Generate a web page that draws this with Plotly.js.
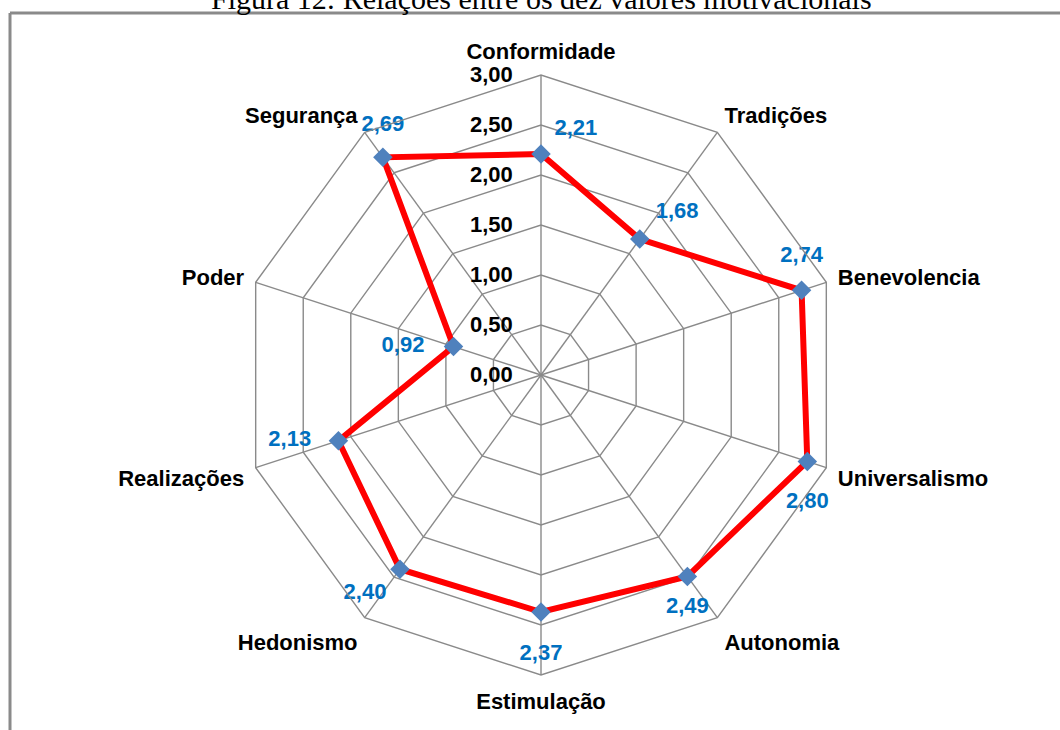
<!DOCTYPE html>
<html>
<head>
<meta charset="utf-8">
<script src="https://cdn.plot.ly/plotly-3.0.1.min.js"></script>
<style>html,body{margin:0;padding:0;background:#fff;}#chart{width:1060px;height:730px;}</style>
</head>
<body>
<div id="chart"></div>
<script>
const categories = ["Conformidade","Tradições","Benevolencia","Universalismo","Autonomia","Estimulação","Hedonismo","Realizações","Poder","Segurança"];
const values = [2.21, 1.68, 2.74, 2.80, 2.49, 2.37, 2.40, 2.13, 0.92, 2.69];
const radialTicks = [0, 0.5, 1, 1.5, 2, 2.5, 3];
const titleText = "Figura 12: Relações entre os dez valores motivacionais";

// label placement styling (per point)
const labelPositions = ["top right","top right","top center","bottom center","bottom center","bottom center","bottom left","middle left","middle left","top center"];
const labelOffsets = [20, 24, 35, 46, 30, 48, 20, 42, 45, 32];
const fmt = v => v.toFixed(2).replace('.', ',');

const closedTheta = categories.concat([categories[0]]);
const closedR = values.concat([values[0]]);

const grid = '#8a8a8a';
const font = '"Liberation Sans", Arial, sans-serif';

const traces = [
  {type:'scatterpolar', r: closedR, theta: closedTheta, mode:'lines',
   line:{color:'#ff0000', width:6}, hoverinfo:'skip', showlegend:false},
  {type:'scatterpolar', r: values, theta: categories, mode:'markers',
   marker:{symbol:'diamond', size:15, color:'#4f81bd'}, showlegend:false},
  {type:'scatterpolar', r: values, theta: categories, mode:'markers+text',
   marker:{symbol:'circle', size:labelOffsets, color:'rgba(0,0,0,0)', opacity:0},
   text: values.map(fmt), textposition: labelPositions,
   textfont:{family:font, size:22, color:'#0070c0', weight:'bold'},
   showlegend:false}
];

const layout = {
  width:1060, height:730,
  margin:{l:0,r:0,t:0,b:0},
  paper_bgcolor:'#fff', plot_bgcolor:'#fff',
  separators:',.',
  showlegend:false,
  polar:{
    domain:{x:[241/1060, 841/1060], y:[1-675/730, 1-75/730]},
    gridshape:'linear',
    bgcolor:'#fff',
    radialaxis:{range:[0,3], tickvals: radialTicks, tickformat:'.2f', angle:90, side:'counterclockwise',
      showline:false, gridcolor:grid, gridwidth:1.4, ticks:'outside', ticklen:20, tickcolor:'rgba(0,0,0,0)',
      tickangle:90,
      tickfont:{family:font, size:22, color:'#000', weight:'bold'}},
    angularaxis:{direction:'clockwise', rotation:90, showline:true, linecolor:grid, linewidth:1.4,
      gridcolor:grid, gridwidth:1.4, ticks:'outside', ticklen:7, tickcolor:'rgba(0,0,0,0)',
      tickfont:{family:font, size:22, color:'#000', weight:'bold'}}
  },
  shapes:[
    {type:'line', xref:'paper', yref:'paper', x0:10/1060, x1:10/1060, y0:0, y1:1-13/730, line:{color:'#8a8a8a', width:3}},
    {type:'line', xref:'paper', yref:'paper', x0:10/1060, x1:1, y0:1-13/730, y1:1-13/730, line:{color:'#8a8a8a', width:3}}
  ],
  annotations:[
    {text:titleText, xref:'paper', yref:'paper', x:541/1060, y:1-17/730, xanchor:'center', yanchor:'bottom',
     showarrow:false, font:{family:'"Liberation Serif", "Times New Roman", serif', size:30, color:'#000'}}
  ]
};

Plotly.newPlot('chart', traces, layout, {displayModeBar:false, staticPlot:true});
</script>
</body>
</html>
